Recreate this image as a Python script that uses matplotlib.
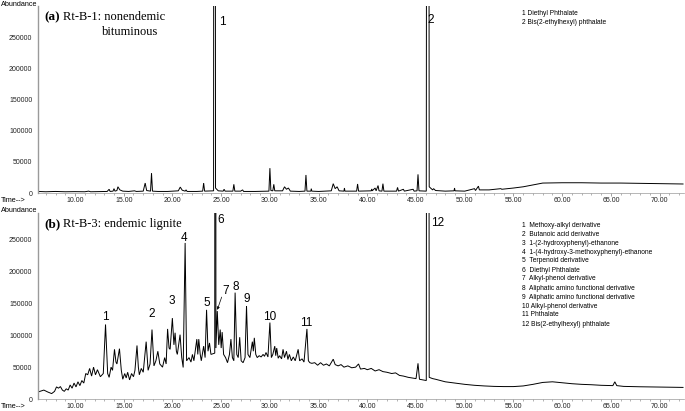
import numpy as np
import matplotlib.pyplot as plt
from matplotlib.ticker import MultipleLocator

W, H = 685, 411

# --- panel (a): Rt-B-1, nonendemic bituminous ---
A_TIME = [6.2, 7.0, 8.0, 9.0, 10.0, 11.0, 11.4, 11.6, 12.5, 13.3, 13.5, 13.6, 13.9, 14.0, 14.1,
          14.3, 14.4, 14.6, 14.9, 15.5, 16.1, 16.3, 17.0, 17.2, 17.35, 17.75, 17.85, 17.95, 18.5,
          19.5, 20.6, 20.8, 21.0, 21.3, 21.4, 21.5, 22.5, 23.1, 23.2, 23.3, 24.22, 24.3, 24.42,
          24.7, 25.2, 25.3, 25.4, 26.2, 26.3, 26.4, 27.0, 27.2, 27.3, 28.5, 29.9, 30.0, 30.1,
          30.3, 30.4, 30.5, 31.3, 31.5, 31.7, 31.9, 32.1, 33.0, 33.6, 33.7, 33.8, 34.2, 34.25,
          34.3, 35.0, 36.3, 36.5, 36.7, 36.9, 37.1, 37.6, 37.65, 37.7, 38.9, 39.0, 39.1, 40.4,
          40.45, 40.5, 40.8, 40.9, 41.1, 41.2, 41.5, 41.6, 41.7, 43.0, 43.1, 43.2, 43.7, 43.8,
          44.7, 44.8, 45.1, 45.2, 45.3, 46.05, 46.2, 46.35, 46.7, 46.8, 47.0, 48.0, 48.9, 48.95,
          49.0, 50.0, 51.0, 51.1, 51.4, 51.5, 52.5, 53.7, 53.8, 55.0, 56.0, 57.0, 58.0, 60.0,
          62.0, 64.0, 66.0, 68.0, 70.0, 72.4]
A_ABUND = [2500, 2000, 2500, 2000, 2200, 2000, 3000, 2000, 2200, 2500, 6000, 2500, 3000, 7000, 3000,
           4000, 10000, 5000, 3000, 2500, 3500, 2500, 3000, 16000, 4000, 3000, 32000, 3000, 2500,
           2500, 3500, 9500, 4500, 3000, 5000, 2500, 2500, 3000, 16000, 3000, 3500, 3000000, 8000,
           3500, 3000, 6000, 3000, 3000, 14000, 3000, 3000, 5000, 2500, 2500, 3000, 40000, 4000,
           3500, 14000, 3500, 3500, 10000, 6000, 8000, 3000, 2500, 3000, 29000, 3000, 3000, 7000,
           3000, 2500, 3500, 15000, 7000, 10000, 3500, 3000, 8000, 3000, 3000, 14500, 3000, 3500,
           6500, 3500, 8000, 3500, 12000, 3500, 3000, 15000, 3000, 3000, 9000, 3000, 6000, 3000,
           6000, 3000, 3500, 30000, 3500, 3000, 3000000, 10000, 5000, 7000, 4000, 3000, 3500, 8000,
           3500, 3000, 7000, 4000, 11000, 5000, 5000, 7000, 6000, 8000, 10000, 13000, 16000, 16500,
           16500, 16000, 16000, 15500, 15000, 14500]
A_PEAK_TIME = [25.07, 46.53]
A_PEAK_LEVEL = [276000, 279000]
A_PEAK_TEXT = ["1", "2"]
A_LEGEND = ["1 Diethyl Phthalate", "2 Bis(2-ethylhexyl) phthalate"]

# --- panel (b): Rt-B-3, endemic lignite ---
B_TIME = [6.2, 6.5, 6.8, 7.2, 7.6, 7.9, 8.1, 8.3, 8.5, 8.7, 8.9, 9.1, 9.3, 9.5, 9.7, 9.9, 10.1,
          10.3, 10.5, 10.7, 10.9, 11.1, 11.3, 11.5, 11.7, 11.9, 12.1, 12.3, 12.6, 12.9, 13.13,
          13.35, 13.5, 13.7, 13.85, 14.05, 14.2, 14.3, 14.56, 14.75, 14.9, 15.1, 15.25, 15.4,
          15.6, 15.8, 16.0, 16.15, 16.36, 16.5, 16.6, 16.8, 17.0, 17.3, 17.5, 17.7, 17.9, 18.1,
          18.3, 18.5, 18.7, 18.98, 19.2, 19.35, 19.5, 19.65, 19.76, 19.99, 20.15, 20.27, 20.4,
          20.5, 20.78, 20.95, 21.1, 21.3, 21.45, 21.7, 21.9, 22.05, 22.2, 22.5, 22.6, 22.7,
          22.85, 22.96, 23.2, 23.35, 23.5, 23.65, 23.8, 23.95, 24.34, 24.4, 24.46, 24.6, 24.75,
          24.9, 25.0, 25.1, 25.25, 25.45, 25.65, 25.85, 26.0, 26.15, 26.3, 26.43, 26.6, 26.75,
          26.9, 27.05, 27.25, 27.45, 27.6, 27.75, 27.95, 28.2, 28.3, 28.4, 28.55, 28.7, 28.9,
          29.1, 29.3, 29.45, 29.6, 29.8, 30.0, 30.15, 30.3, 30.5, 30.6, 30.7, 30.85, 31.0, 31.2,
          31.35, 31.5, 31.7, 31.85, 32.0, 32.2, 32.4, 32.6, 32.9, 33.05, 33.3, 33.5, 33.8, 33.95,
          34.1, 34.3, 34.6, 34.9, 35.2, 35.5, 35.8, 36.1, 36.5, 36.7, 37.0, 37.3, 37.6, 38.0,
          38.4, 38.8, 39.1, 39.3, 39.7, 40.0, 40.4, 40.8, 41.2, 41.6, 42.0, 42.5, 42.9, 43.3,
          43.7, 44.2, 44.6, 45.0, 45.2, 45.35, 45.7, 46.05, 46.2, 46.35, 46.7, 47.0, 47.5, 48.0,
          48.5, 49.3, 50.0, 51.0, 52.0, 53.0, 54.0, 55.0, 56.0, 57.0, 58.0, 59.0, 60.0, 61.0,
          62.0, 63.0, 64.0, 65.2, 65.4, 65.6, 66.3, 67.0, 68.0, 69.0, 70.0, 71.0, 72.4]
B_ABUND = [11000, 12500, 14000, 11000, 8500, 12000, 19000, 17000, 19500, 14000, 12000, 16000, 14000,
           22000, 17000, 25000, 19000, 27000, 21000, 29000, 25000, 40000, 38000, 48000, 36000, 50000,
           38000, 46000, 35000, 40000, 117000, 40000, 34000, 50000, 45000, 78000, 58000, 55000,
           79000, 45000, 31000, 40000, 33000, 42000, 30000, 40000, 35000, 45000, 84000, 50000, 38000,
           48000, 42000, 90000, 45000, 55000, 109000, 52000, 60000, 75000, 55000, 50000, 65000, 55000,
           110000, 80000, 78000, 127000, 85000, 104000, 75000, 70000, 101000, 65000, 49500, 245000,
           60000, 65000, 58000, 70000, 60000, 94000, 70000, 94000, 70000, 60000, 83000, 65000, 140000,
           75000, 88000, 70000, 72000, 3000000, 80000, 138000, 85000, 109000, 80000, 105000, 70000,
           65000, 57000, 70000, 94000, 65000, 60000, 167000, 70000, 65000, 97000, 60000, 57000, 65000,
           146000, 70000, 65000, 90000, 75000, 96000, 70000, 65000, 68000, 66000, 70000, 67000, 73000,
           66000, 120000, 65000, 70000, 83000, 68000, 80000, 64000, 68000, 63000, 78000, 65000, 75000,
           62000, 70000, 60000, 66000, 60000, 78000, 60000, 63000, 58000, 110000, 60000, 57000, 56000,
           57000, 53000, 57000, 53000, 55000, 52000, 62500, 54000, 52000, 54000, 50000, 52000, 49000,
           50000, 55000, 47000, 48000, 46000, 48000, 44000, 46000, 43000, 42000, 40000, 41000, 37000,
           36000, 34000, 33000, 32000, 56000, 31000, 30000, 29000, 3000000, 34000, 32000, 31000, 29000,
           27000, 26000, 24500, 23000, 21500, 20500, 19800, 19500, 19500, 20500, 23000, 26000, 27000,
           25500, 24000, 23000, 22400, 21500, 21000, 27000, 21000, 19800, 19500, 19200, 19000, 18800,
           18700, 18200]
B_PEAK_TIME = [13.16, 17.86, 19.9, 21.2, 23.5, 24.97, 25.46, 26.48, 27.6, 29.97, 33.7, 47.24]
B_PEAK_LEVEL = [128000, 133000, 153600, 252600, 151000, 281000, 170000, 176000, 157000, 129000,
                118700, 277000]
B_PEAK_TEXT = [str(i) for i in range(1, 13)]
B_LEGEND = ["1  Methoxy-alkyl derivative", "2  Butanoic acid derivative",
            "3  1-(2-hydroxyphenyl)-ethanone", "4  1-(4-hydroxy-3-methoxyphenyl)-ethanone",
            "5  Terpenoid derivative", "6  Diethyl Phthalate", "7  Alkyl-phenol derivative",
            "8  Aliphatic amino functional derivative", "9  Aliphatic amino functional derivative",
            "10 Alkyl-phenol derivative", "11 Phthalate", "12 Bis(2-ethylhexyl) phthalate"]

SANS = "Liberation Sans"
SERIF = "Liberation Serif"


def fx(px):
    return px / W


def fy(py):
    return 1 - py / H


def style_axis(ax, ymax):
    ax.set_xlim(6.2, 72.5)
    ax.set_ylim(0, ymax)
    ax.set_yticks([0, 50000, 100000, 150000, 200000, 250000])
    ax.set_xticks(np.arange(10, 71, 5))
    ax.set_xticklabels([f"{t:.2f}" for t in np.arange(10, 71, 5)])
    ax.xaxis.set_minor_locator(MultipleLocator(1))
    for s in ["top", "right"]:
        ax.spines[s].set_visible(False)
    ax.spines["left"].set_color("#9a9a9a")
    ax.spines["left"].set_linewidth(1.0)
    ax.spines["bottom"].set_color("#9a9a9a")
    ax.spines["bottom"].set_linewidth(0.5)
    ax.tick_params(axis="y", length=0, pad=4, labelsize=5, labelcolor="#222222")
    ax.tick_params(axis="x", which="major", length=2.5, width=0.5, color="#777777",
                   pad=0.5, labelsize=5, labelcolor="#222222")
    ax.tick_params(axis="x", which="minor", length=1.5, width=0.4, color="#777777")
    for lab in ax.get_xticklabels() + ax.get_yticklabels():
        lab.set_family(SANS)


fig = plt.figure(figsize=(W / 100, H / 100), dpi=100)
ax_a = fig.add_axes([fx(38), fy(193), fx(684) - fx(38), fy(6) - fy(193)])
ax_b = fig.add_axes([fx(38), fy(399), fx(684) - fx(38), fy(213) - fy(399)])

ax_a.plot(A_TIME, A_ABUND, color="black", lw=0.7, solid_joinstyle="miter")
ax_b.plot(B_TIME, B_ABUND, color="black", lw=0.7, solid_joinstyle="miter")
style_axis(ax_a, 301000)
style_axis(ax_b, 292000)

for t, v, s in zip(A_PEAK_TIME, A_PEAK_LEVEL, A_PEAK_TEXT):
    ax_a.text(t, v, s, fontsize=8.5, family=SANS, ha="center", va="center")
for t, v, s in zip(B_PEAK_TIME, B_PEAK_LEVEL, B_PEAK_TEXT):
    ax_b.text(t, v, s, fontsize=8.5, family=SANS, ha="center", va="center")

# arrow for peak 7
ax_b.annotate("", xy=(24.6, 140000), xytext=(25.05, 160000),
              arrowprops=dict(arrowstyle="-|>", lw=0.5, color="black",
                              mutation_scale=4, shrinkA=0, shrinkB=0))

# axis captions
for py in (0.5, 206.5):
    fig.text(fx(1), fy(py), "Abundance", fontsize=5.2, family=SANS, ha="left", va="top")
for py in (201, 406.5):
    fig.text(fx(1), fy(py), "Time-->", fontsize=5.2, family=SANS, ha="left", va="center")

# panel titles
fig.text(fx(44), fy(17), "(a)", fontsize=9.5, family=SERIF, weight="bold", ha="left", va="center")
fig.text(fx(63), fy(17), "Rt-B-1: nonendemic", fontsize=9, family=SERIF, ha="left", va="center")
fig.text(fx(102), fy(32), "bituminous", fontsize=9, family=SERIF, ha="left", va="center")
fig.text(fx(44), fy(224), "(b)", fontsize=9.5, family=SERIF, weight="bold", ha="left", va="center")
fig.text(fx(63), fy(224), "Rt-B-3: endemic lignite", fontsize=9, family=SERIF, ha="left", va="center")

# compound lists
for i, s in enumerate(A_LEGEND):
    fig.text(fx(522), fy(13.5 + 9.2 * i), s, fontsize=4.8, family=SANS, ha="left", va="center")
for i, s in enumerate(B_LEGEND):
    fig.text(fx(522), fy(225 + 9 * i), s, fontsize=4.8, family=SANS, ha="left", va="center")

fig.savefig("out.png", dpi=100)
